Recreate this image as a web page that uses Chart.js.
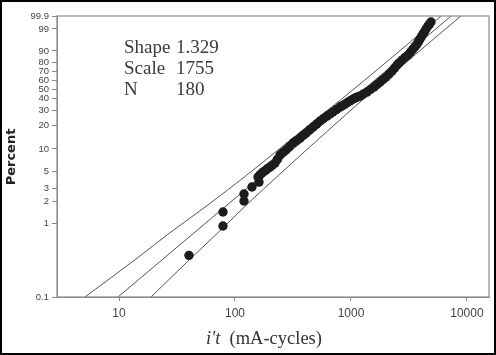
<!DOCTYPE html>
<html>
<head>
<meta charset="utf-8">
<script src="https://cdn.jsdelivr.net/npm/chart.js@4/dist/chart.umd.min.js"></script>
<style>
  html, body { margin: 0; padding: 0; background: #fff; }
  #wrap { position: relative; width: 496px; height: 355px; }
</style>
</head>
<body>
<div id="wrap"><canvas id="c" width="496" height="355"></canvas></div>
<script>
// ---- data ----
const timeObs = [40.1, 78.8, 78.8, 119.6, 119.6, 140.1, 161,
  157.9, 164, 170.9, 178, 185, 192, 200.3, 210, 221.2, 232, 244.3, 259, 275.3, 295, 316.2,
  338, 363.4, 386, 409.4, 438, 470.3, 504, 540.6, 580, 621.2, 660, 699.6, 750, 803.9, 845,
  887.8, 933, 980.4, 1030, 1082.6, 1138, 1195.6, 1280, 1373.8, 1473, 1578.6, 1675, 1778.3,
  1888, 2003.2, 2128, 2256.5, 2372, 2492, 2620, 2752, 2920, 3100, 3260, 3423, 3565, 3707,
  3820, 3934, 4055, 4176, 4300, 4433, 4611, 4750, 4896];
const pctObs = [0.37, 0.93, 1.44, 2.03, 2.52, 3.13, 3.65,
  4.27, 4.55, 4.82, 5.05, 5.29, 5.55, 5.79, 6.15, 6.54, 7.3, 8.33, 9.0, 9.69, 10.8, 11.92,
  12.8, 13.8, 14.9, 15.95, 17.4, 18.93, 20.6, 22.4, 24.0, 25.67, 27.1, 28.58, 30.5, 32.54, 33.8,
  35.11, 36.5, 37.86, 39.3, 40.7, 41.7, 42.68, 44.8, 46.81, 49.5, 52.22, 55.0, 57.86,
  60.7, 63.62, 67.1, 70.52, 73.8, 77.13, 79.7, 82.2, 84.6, 86.73, 89.1, 91.28, 92.8, 94.24,
  95.4, 96.46, 97.3, 97.99, 98.5, 98.97, 99.35, 99.52, 99.67];

const fitTime = [9.8, 7300];
const fitPct = [0.1, 99.9];

const boundPct = [0.1, 0.34, 0.75, 1.9, 4.5, 10.6, 38.8, 82.2, 99.9];
const lowerBoundTime = [5.09, 14.35, 27.4, 61.4, 125.7, 252.7, 810.2, 2118, 5970];
const upperBoundTime = [18.87, 41.9, 71.1, 130.5, 237.1, 440.6, 1254, 3149, 8876];

const yTickPct = [0.1, 1, 2, 3, 5, 10, 20, 30, 40, 50, 60, 70, 80, 90, 99, 99.9];
const yTickLabels = ['0.1', '1', '2', '3', '5', '10', '20', '30', '40', '50', '60', '70', '80', '90', '99', '99.9'];
const xTickValues = [10, 100, 1000, 10000];
const xTickLabels = ['10', '100', '1000', '10000'];

const statLabels = ['Shape', 'Scale', 'N'];
const statValues = ['1.329', '1755', '180'];
const yTitle = 'Percent';
const xTitleItalic = "i't";
const xTitleRest = '  (mA-cycles)';

// Weibull probability transform
const tr = p => Math.log(-Math.log(1 - p / 100));

const obs = timeObs.map((t, i) => ({ x: t, y: tr(pctObs[i]) }));
const fit = fitTime.map((t, i) => ({ x: t, y: tr(fitPct[i]) }));
const lower = lowerBoundTime.map((t, i) => ({ x: t, y: tr(boundPct[i]) }));
const upper = upperBoundTime.map((t, i) => ({ x: t, y: tr(boundPct[i]) }));

const lineStyle = { borderColor: '#555', borderWidth: 1, pointRadius: 0, showLine: true, fill: false, tension: 0.3, cubicInterpolationMode: 'monotone' };

const decor = {
  id: 'decor',
  beforeDraw(chart) {
    const ctx = chart.ctx;
    ctx.save();
    ctx.fillStyle = '#fff';
    ctx.fillRect(0, 0, chart.width, chart.height);
    ctx.restore();
  },
  afterDraw(chart) {
    const ctx = chart.ctx;
    const a = chart.chartArea;
    ctx.save();
    // plot frame
    ctx.strokeStyle = '#8a8a8a';
    ctx.lineWidth = 1.2;
    ctx.strokeRect(a.left, a.top, a.right - a.left, a.bottom - a.top);
    // stats text
    ctx.fillStyle = '#3a3a3a';
    ctx.font = '19px "Liberation Serif", "Times New Roman", serif';
    ctx.textBaseline = 'alphabetic';
    statLabels.forEach((s, i) => {
      ctx.fillText(s, 124, 53 + i * 21);
      ctx.fillText(statValues[i], 176, 53 + i * 21);
    });
    // x title
    ctx.fillStyle = '#333';
    const fs = 18.5;
    ctx.font = 'italic ' + fs + 'px "Liberation Serif", serif';
    const w1 = ctx.measureText(xTitleItalic).width;
    ctx.font = fs + 'px "Liberation Serif", serif';
    const w2 = ctx.measureText(xTitleRest).width;
    const x0 = 264 - (w1 + w2) / 2;
    ctx.font = 'italic ' + fs + 'px "Liberation Serif", serif';
    ctx.fillText(xTitleItalic, x0, 344);
    ctx.font = fs + 'px "Liberation Serif", serif';
    ctx.fillText(xTitleRest, x0 + w1, 344);
    // y title
    ctx.translate(12, 157);
    ctx.rotate(-Math.PI / 2);
    ctx.font = 'bold 13px "DejaVu Sans", sans-serif';
    ctx.textAlign = 'center';
    ctx.textBaseline = 'middle';
    ctx.fillStyle = '#222';
    ctx.fillText(yTitle, 0, 0);
    ctx.restore();
    // outer border
    ctx.save();
    ctx.strokeStyle = '#000';
    ctx.lineWidth = 2;
    ctx.strokeRect(1, 1, chart.width - 2, chart.height - 2);
    ctx.restore();
  }
};

new Chart(document.getElementById('c'), {
  type: 'scatter',
  data: {
    datasets: [
      { data: obs, pointRadius: 4.7, pointHoverRadius: 4.7, backgroundColor: '#1c1c1c', borderWidth: 0, order: 0 },
      Object.assign({ data: fit, order: 1 }, lineStyle, { tension: 0 }),
      Object.assign({ data: lower, order: 1 }, lineStyle),
      Object.assign({ data: upper, order: 1 }, lineStyle)
    ]
  },
  options: {
    responsive: false,
    animation: false,
    events: [],
    layout: { padding: { top: 16, right: 7, left: 0, bottom: 0 } },
    plugins: { legend: { display: false }, tooltip: { enabled: false } },
    scales: {
      x: {
        type: 'logarithmic',
        min: 2.92,
        max: 15490,
        afterBuildTicks: s => { s.ticks = xTickValues.map(v => ({ value: v })); },
        afterFit: s => { s.height = 58; },
        ticks: {
          autoSkip: false, maxRotation: 0, padding: 5,
          color: '#444',
          font: { family: '"Liberation Sans", Arial, sans-serif', size: 12 },
          callback: (v, i) => xTickLabels[i]
        },
        grid: { display: true, drawOnChartArea: false, drawTicks: true, tickLength: 4, color: '#888' },
        border: { display: true, color: '#888' }
      },
      y: {
        type: 'linear',
        min: tr(0.1),
        max: tr(99.9),
        afterBuildTicks: s => { s.ticks = yTickPct.map(p => ({ value: tr(p) })); },
        afterFit: s => { s.width = 57; },
        ticks: {
          autoSkip: false, padding: 3,
          color: '#444',
          font: { family: '"Liberation Sans", Arial, sans-serif', size: 9.5 },
          callback: (v, i) => yTickLabels[i]
        },
        grid: { display: true, drawOnChartArea: false, drawTicks: true, tickLength: 5, color: '#888' },
        border: { display: true, color: '#888' }
      }
    }
  },
  plugins: [decor]
});
</script>
</body>
</html>
